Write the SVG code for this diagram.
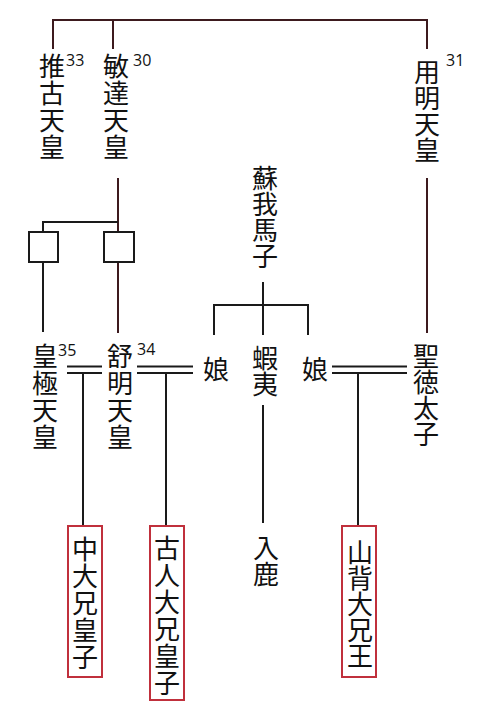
<svg xmlns="http://www.w3.org/2000/svg" width="489" height="711" viewBox="0 0 489 711">
<style>
.t{font-family:"Noto Sans CJK JP","Noto Sans CJK SC",sans-serif;font-size:26px;fill:#111;text-anchor:middle}
.n{font-family:"Open Sans","Liberation Sans",sans-serif;font-size:16px;fill:#111}
.k{stroke:#1a1a1a;stroke-width:2;fill:none}
.m{stroke:#3d1a1e;stroke-width:2;fill:none}
.b{stroke:#1a1a1a;stroke-width:2;fill:#fff}
.r{stroke:#c0303c;stroke-width:2;fill:#fff}
</style>
<rect width="489" height="711" fill="#fff"/>
<g id="connectors">
<path class="m" d="M53,49 V20 H427 V49 M113,20 V49"/>
<path class="m" d="M118,178 V333"/>
<path class="k" d="M43,232 V222 H118"/>
<path class="k" d="M43,262 V332"/>
<path class="m" d="M427,178 V333"/>
<path class="k" d="M263,282 V335 M214,335 V305 H308 V335"/>
<path class="k" d="M263,405 V523"/>
<path class="k" d="M67,366.5 H102 M67,373 H102 M83,373 V526"/>
<path class="k" d="M137,366.5 H193 M137,373 H193 M166,373 V526"/>
<path class="k" d="M332,366.5 H407 M332,373 H407 M358,373 V526"/>
</g>
<g id="suiko"><text class="t"><tspan x="52" y="76">推</tspan><tspan x="52" y="103">古</tspan><tspan x="52" y="130">天</tspan><tspan x="52" y="157">皇</tspan></text><text class="n" x="66" y="66">33</text></g>
<g id="bidatsu"><text class="t"><tspan x="116" y="76">敏</tspan><tspan x="116" y="103">達</tspan><tspan x="116" y="130">天</tspan><tspan x="116" y="157">皇</tspan></text><text class="n" x="133" y="66">30</text></g>
<g id="yomei"><text class="t"><tspan x="427" y="82">用</tspan><tspan x="427" y="108">明</tspan><tspan x="427" y="134">天</tspan><tspan x="427" y="160">皇</tspan></text><text class="n" x="446" y="66">31</text></g>
<g id="box1"><rect class="b" x="29" y="232" width="29" height="30"/></g>
<g id="box2"><rect class="b" x="104" y="232" width="30" height="30"/></g>
<g id="umako"><text class="t"><tspan x="265" y="188">蘇</tspan><tspan x="265" y="214">我</tspan><tspan x="265" y="240">馬</tspan><tspan x="265" y="266">子</tspan></text></g>
<g id="kogyoku"><text class="t"><tspan x="45" y="366">皇</tspan><tspan x="45" y="393">極</tspan><tspan x="45" y="420">天</tspan><tspan x="45" y="447">皇</tspan></text><text class="n" x="58" y="356">35</text></g>
<g id="jomei"><text class="t"><tspan x="120" y="366">舒</tspan><tspan x="120" y="393">明</tspan><tspan x="120" y="420">天</tspan><tspan x="120" y="447">皇</tspan></text><text class="n" x="137" y="355">34</text></g>
<g id="musume1"><text class="t" x="216" y="379">娘</text></g>
<g id="emishi"><text class="t"><tspan x="265" y="368">蝦</tspan><tspan x="265" y="394">夷</tspan></text></g>
<g id="musume2"><text class="t" x="315" y="379">娘</text></g>
<g id="shotoku"><text class="t"><tspan x="426" y="366">聖</tspan><tspan x="426" y="392">徳</tspan><tspan x="426" y="418">太</tspan><tspan x="426" y="444">子</tspan></text></g>
<g id="nakanooe"><rect class="r" x="68" y="526" width="34" height="151"/><text class="t"><tspan x="85" y="559">中</tspan><tspan x="85" y="586">大</tspan><tspan x="85" y="613">兄</tspan><tspan x="85" y="640">皇</tspan><tspan x="85" y="667">子</tspan></text></g>
<g id="furuhito"><rect class="r" x="150" y="526" width="34" height="174"/><text class="t"><tspan x="167" y="558">古</tspan><tspan x="167" y="585">人</tspan><tspan x="167" y="612">大</tspan><tspan x="167" y="639">兄</tspan><tspan x="167" y="666">皇</tspan><tspan x="167" y="693">子</tspan></text></g>
<g id="iruka"><text class="t"><tspan x="266" y="558">入</tspan><tspan x="266" y="584">鹿</tspan></text></g>
<g id="yamashiro"><rect class="r" x="342" y="526" width="34" height="151"/><text class="t"><tspan x="360" y="562">山</tspan><tspan x="360" y="588">背</tspan><tspan x="360" y="614">大</tspan><tspan x="360" y="640">兄</tspan><tspan x="360" y="666">王</tspan></text></g>
</svg>
